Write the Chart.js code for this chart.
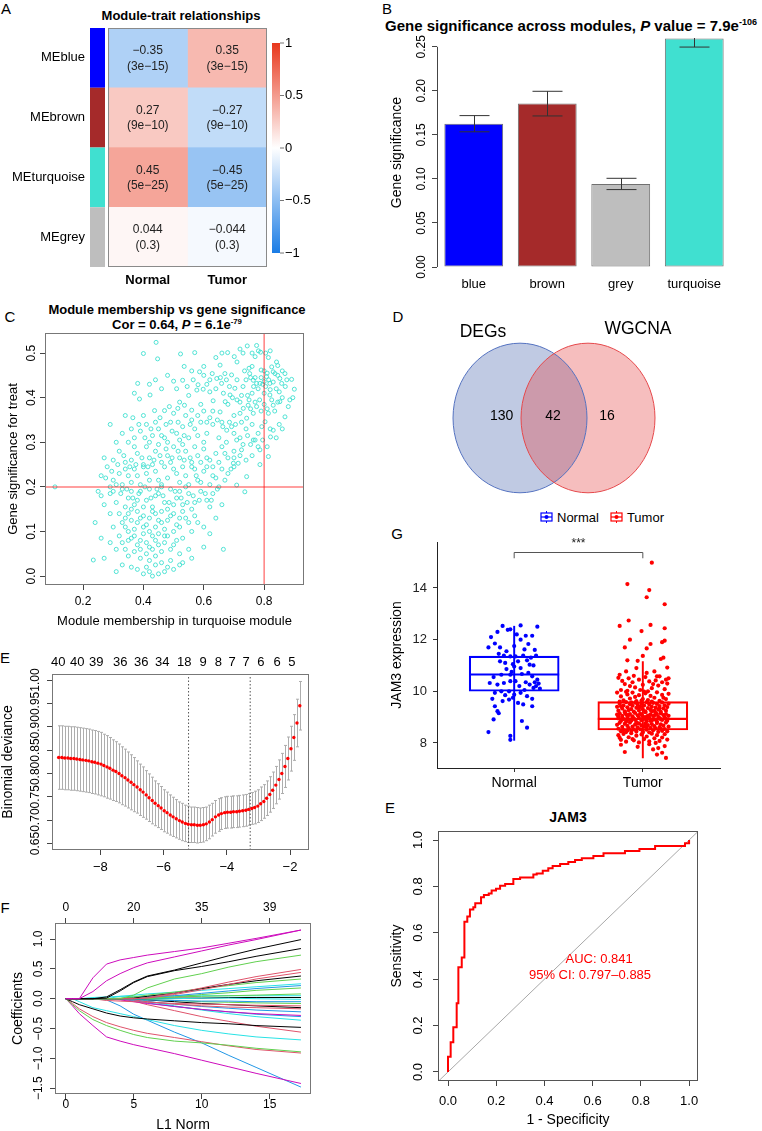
<!DOCTYPE html>
<html><head><meta charset="utf-8">
<script src="https://cdn.jsdelivr.net/npm/chart.js@4.4.1/dist/chart.umd.min.js"></script>
<style>
html,body{margin:0;padding:0;background:#fff;}
#page{position:relative;width:762px;height:1131px;overflow:hidden;background:#fff;font-family:"Liberation Sans",Arial,Helvetica,sans-serif;color:#000;}
#page canvas{position:absolute;}
.t{position:absolute;white-space:nowrap;transform:translate(-50%,-50%);line-height:1;}
.letter{font-size:15px;}
.b{font-weight:bold;}
sup{font-size:0.6em;vertical-align:0.6em;line-height:0;}
.leg{position:absolute;left:540px;top:510px;height:14px;display:flex;align-items:center;font-size:13px;white-space:nowrap;}
</style></head>
<body><div id="page">
<div class="t letter" style="left:6px;top:8px">A</div>
<div class="t b" style="left:181px;top:15px;font-size:13px">Module-trait relationships</div>
<div class="t letter" style="left:387px;top:8px">B</div>
<div class="t b" style="left:571px;top:25px;font-size:15px">Gene significance across modules, <i>P</i> value = 7.9e<sup>-106</sup></div>
<div class="t letter" style="left:10px;top:316px">C</div>
<div class="t b" style="left:177px;top:309px;font-size:13px">Module membership vs gene significance</div>
<div class="t b" style="left:177px;top:324px;font-size:13px">Cor = 0.64, <i>P</i> = 6.1e<sup>-79</sup></div>
<div class="t letter" style="left:398px;top:316px">D</div>
<div class="t letter" style="left:5px;top:657px">E</div>
<div class="t letter" style="left:5px;top:907px">F</div>
<div class="t letter" style="left:397px;top:533px">G</div>
<div class="t letter" style="left:390px;top:807px">E</div>
<div class="t b" style="left:568px;top:817px;font-size:14px">JAM3</div>
<div class="leg">
<svg width="13" height="12" viewBox="0 0 13 12"><line x1="6.5" y1="0" x2="6.5" y2="12" stroke="#0000FF" stroke-width="1"/><rect x="1" y="2" width="11" height="8" fill="#fff" stroke="#0000FF" stroke-width="1.2"/><line x1="1" y1="6" x2="12" y2="6" stroke="#0000FF" stroke-width="1.2"/><circle cx="6.5" cy="6" r="2" fill="#0000FF"/></svg>
<span style="margin-left:4px">Normal</span>
<svg style="margin-left:11px" width="13" height="12" viewBox="0 0 13 12"><line x1="6.5" y1="0" x2="6.5" y2="12" stroke="#FF0000" stroke-width="1"/><rect x="1" y="2" width="11" height="8" fill="#fff" stroke="#FF0000" stroke-width="1.2"/><line x1="1" y1="6" x2="12" y2="6" stroke="#FF0000" stroke-width="1.2"/><circle cx="6.5" cy="6" r="2" fill="#FF0000"/></svg>
<span style="margin-left:4px">Tumor</span>
</div>
</div>
<script>
// ================= DATA =================
// A: module-trait heatmap
const modules = ['MEblue','MEbrown','MEturquoise','MEgrey'];
const moduleColors = ['#0000FF','#A52A2A','#40E0D0','#BEBEBE'];
const traits = ['Normal','Tumor'];
const corNormal = [-0.35, 0.27, 0.45, 0.044];
const corTumor = [0.35, -0.27, -0.45, -0.044];
const pNormal = ['3e\u221215','9e\u221210','5e\u221225','0.3'];
const pTumor = ['3e\u221215','9e\u221210','5e\u221225','0.3'];
const colorbarTicks = [1, 0.5, 0, -0.5, -1];

// B: gene significance across modules
const gsModules = ['blue','brown','grey','turquoise'];
const gsColors = ['#0000FF','#A52A2A','#BEBEBE','#40E0D0'];
const gsMean = [0.1627, 0.1855, 0.0943, 0.2593];
const gsSE = [0.0092, 0.0140, 0.0064, 0.0096];
const gsTicks = [0, 0.05, 0.10, 0.15, 0.20, 0.25];

// C: module membership vs gene significance (turquoise)
const mmCut = 0.8, gsCut = 0.2;
const mmTicks = [0.2, 0.4, 0.6, 0.8];
const gsTicksC = [0, 0.1, 0.2, 0.3, 0.4, 0.5];
const mmGs = [
[0.442,0.524],[0.400,0.499],[0.447,0.487],[0.523,0.498],[0.570,0.501],[0.679,0.501],[0.701,0.492],[0.720,0.509],[0.744,0.516],[0.775,0.517],[0.781,0.505],[0.788,0.502],[0.770,0.492],[0.814,0.490],[0.841,0.480],[0.845,0.472],[0.825,0.469],[0.869,0.454],[0.830,0.458],[0.750,0.466],[0.752,0.454],[0.586,0.458],[0.654,0.473],[0.628,0.454],[0.670,0.454],[0.692,0.451],[0.800,0.460],[0.810,0.455],[0.790,0.462],[0.836,0.454],[0.760,0.470],[0.735,0.460],
[0.891,0.441],[0.764,0.439],[0.775,0.432],[0.786,0.432],[0.800,0.436],[0.819,0.432],[0.852,0.443],[0.858,0.432],[0.808,0.447],[0.850,0.413],[0.900,0.419],[0.819,0.406],[0.703,0.421],[0.687,0.406],[0.659,0.432],[0.643,0.443],[0.620,0.413],[0.598,0.419],[0.581,0.429],[0.577,0.417],[0.530,0.439],[0.500,0.437],[0.381,0.432],[0.422,0.406],[0.740,0.440],[0.770,0.445],[0.790,0.445],[0.780,0.420],[0.760,0.410],[0.730,0.425],[0.710,0.440],[0.840,0.420],[0.870,0.425],[0.820,0.418],[0.800,0.410],[0.665,0.410],[0.550,0.405],[0.610,0.430],
[0.387,0.397],[0.869,0.357],[0.852,0.391],[0.830,0.383],[0.814,0.365],[0.764,0.365],[0.747,0.383],[0.731,0.376],[0.720,0.365],[0.742,0.354],[0.654,0.368],[0.671,0.391],[0.631,0.393],[0.437,0.371],[0.470,0.371],[0.486,0.380],[0.514,0.376],[0.536,0.383],[0.560,0.372],[0.785,0.395],[0.800,0.385],[0.770,0.390],[0.750,0.395],[0.700,0.360],[0.680,0.385],[0.600,0.370],[0.580,0.360],[0.620,0.355],[0.540,0.360],[0.500,0.365],[0.455,0.355],[0.400,0.360],[0.365,0.355],[0.340,0.360],[0.835,0.370],[0.880,0.380],[0.590,0.385],[0.520,0.390],[0.720,0.390],
[0.803,0.346],[0.830,0.327],[0.821,0.312],[0.792,0.335],[0.764,0.305],[0.709,0.305],[0.692,0.335],[0.676,0.327],[0.663,0.335],[0.780,0.320],[0.760,0.340],[0.740,0.330],[0.720,0.310],[0.650,0.310],[0.630,0.340],[0.610,0.320],[0.590,0.345],[0.570,0.330],[0.550,0.310],[0.530,0.335],[0.510,0.320],[0.490,0.345],[0.470,0.310],[0.450,0.330],[0.430,0.315],[0.410,0.340],[0.390,0.325],[0.370,0.310],[0.560,0.350],[0.600,0.300],[0.480,0.300],[0.420,0.300],[0.350,0.300],[0.290,0.340],[0.520,0.305],[0.700,0.320],[0.675,0.300],[0.850,0.340],[0.860,0.330],[0.840,0.310],
[0.786,0.283],[0.814,0.268],[0.725,0.283],[0.714,0.253],[0.698,0.253],[0.780,0.290],[0.760,0.270],[0.740,0.260],[0.730,0.295],[0.700,0.280],[0.680,0.265],[0.660,0.290],[0.640,0.275],[0.620,0.260],[0.600,0.285],[0.580,0.270],[0.560,0.255],[0.540,0.280],[0.520,0.265],[0.500,0.290],[0.480,0.270],[0.460,0.255],[0.440,0.280],[0.420,0.265],[0.400,0.250],[0.380,0.275],[0.360,0.260],[0.340,0.255],[0.320,0.280],[0.300,0.260],[0.270,0.265],[0.450,0.295],[0.530,0.295],[0.570,0.290],[0.610,0.265],[0.490,0.255],[0.410,0.290],[0.370,0.290],[0.650,0.255],[0.670,0.275],
[0.786,0.250],[0.742,0.223],[0.709,0.204],[0.660,0.240],[0.640,0.220],[0.620,0.205],[0.600,0.235],[0.580,0.215],[0.560,0.245],[0.540,0.225],[0.520,0.210],[0.500,0.240],[0.480,0.220],[0.460,0.205],[0.440,0.235],[0.420,0.215],[0.400,0.245],[0.380,0.225],[0.360,0.210],[0.340,0.240],[0.320,0.230],[0.300,0.215],[0.280,0.245],[0.260,0.225],[0.680,0.230],[0.700,0.245],[0.550,0.205],[0.470,0.245],[0.430,0.250],[0.390,0.205],[0.330,0.205],[0.510,0.230],[0.570,0.240],[0.630,0.245],[0.450,0.215],[0.370,0.240],[0.410,0.230],[0.530,0.245],[0.590,0.210],[0.350,0.225],
[0.736,0.189],[0.107,0.200],[0.250,0.190],[0.260,0.180],[0.290,0.185],[0.310,0.165],[0.330,0.195],[0.350,0.175],[0.370,0.160],[0.390,0.190],[0.410,0.170],[0.430,0.155],[0.450,0.185],[0.470,0.165],[0.490,0.195],[0.510,0.175],[0.530,0.160],[0.550,0.185],[0.570,0.165],[0.590,0.190],[0.610,0.170],[0.630,0.185],[0.660,0.160],[0.420,0.195],[0.380,0.170],[0.340,0.155],[0.440,0.180],[0.480,0.150],[0.520,0.190],[0.400,0.155],[0.360,0.190],[0.500,0.160],[0.560,0.150],[0.460,0.200],[0.300,0.190],[0.540,0.200],[0.620,0.155],
[0.300,0.110],[0.330,0.120],[0.350,0.140],[0.370,0.105],[0.390,0.130],[0.410,0.115],[0.430,0.145],[0.450,0.125],[0.470,0.105],[0.490,0.135],[0.510,0.115],[0.530,0.145],[0.550,0.120],[0.570,0.135],[0.600,0.110],[0.640,0.130],[0.380,0.145],[0.420,0.100],[0.460,0.145],[0.340,0.110],[0.440,0.110],[0.500,0.100],[0.400,0.135],[0.360,0.125],[0.520,0.130],
[0.290,0.075],[0.320,0.090],[0.340,0.060],[0.360,0.085],[0.380,0.070],[0.400,0.095],[0.420,0.065],[0.440,0.080],[0.460,0.055],[0.480,0.090],[0.500,0.070],[0.530,0.085],[0.550,0.060],[0.600,0.065],[0.410,0.050],[0.370,0.055],[0.450,0.095],[0.390,0.080],[0.430,0.090],[0.470,0.075],[0.260,0.085],[0.350,0.100],
[0.234,0.036],[0.310,0.010],[0.330,0.025],[0.360,0.020],[0.380,0.015],[0.400,0.005],[0.420,0.010],[0.430,0.000],[0.440,0.025],[0.450,0.005],[0.460,0.030],[0.470,0.010],[0.480,0.020],[0.490,0.035],[0.500,0.015],[0.520,0.025],[0.530,0.030],[0.410,0.020],[0.390,0.040],[0.350,0.045],[0.440,0.045],[0.420,0.035],[0.270,0.040],
[0.755,0.445],[0.765,0.425],[0.795,0.430],[0.805,0.425],[0.815,0.440],[0.830,0.435],[0.845,0.450],[0.860,0.460],[0.875,0.440],[0.885,0.395],[0.895,0.400],[0.860,0.400],[0.845,0.390],[0.825,0.395],[0.810,0.375],[0.790,0.370],[0.775,0.380],[0.755,0.375],[0.745,0.405],[0.725,0.405],[0.710,0.395],[0.695,0.400],[0.685,0.425],[0.675,0.440],[0.655,0.445],[0.640,0.420],[0.620,0.440],[0.600,0.450],[0.565,0.440],[0.545,0.425],
[0.630,0.370],[0.645,0.350],[0.660,0.345],[0.685,0.345],[0.705,0.340],[0.725,0.345],[0.745,0.315],[0.755,0.295],[0.770,0.305],[0.795,0.305],[0.810,0.290],[0.820,0.330],[0.610,0.345],[0.580,0.315],[0.555,0.340],[0.535,0.315],[0.515,0.345],[0.495,0.325],[0.475,0.340],[0.460,0.315],[0.440,0.345],[0.425,0.330],[0.405,0.310],[0.385,0.340],[0.360,0.330],[0.330,0.320],[0.310,0.300],
[0.700,0.265],[0.720,0.270],[0.690,0.240],[0.670,0.215],[0.650,0.200],[0.630,0.225],[0.610,0.245],[0.590,0.255],[0.575,0.225],[0.555,0.265],[0.535,0.260],[0.515,0.280],[0.495,0.265],[0.475,0.285],[0.455,0.270],[0.435,0.260],[0.415,0.245],[0.395,0.265],[0.375,0.250],[0.355,0.245],[0.335,0.270],[0.315,0.250],[0.295,0.235],[0.275,0.220],[0.290,0.200],[0.310,0.205],[0.325,0.185],[0.345,0.195],[0.365,0.175],[0.385,0.185],[0.405,0.200],[0.425,0.175],[0.445,0.195],[0.465,0.180],[0.485,0.165],[0.505,0.190],[0.525,0.175],[0.545,0.165],[0.565,0.180],[0.585,0.170],[0.605,0.185],[0.625,0.170],[0.645,0.195],
[0.320,0.140],[0.340,0.130],[0.360,0.150],[0.380,0.120],[0.400,0.110],[0.420,0.130],[0.440,0.140],[0.460,0.120],[0.480,0.125],[0.500,0.140],[0.520,0.110],[0.540,0.130],[0.560,0.100],[0.580,0.120],[0.620,0.095],[0.665,0.060],[0.310,0.060],[0.330,0.075],[0.350,0.080],[0.370,0.090],[0.390,0.060],[0.410,0.075],[0.430,0.060],[0.450,0.070],[0.470,0.090],[0.490,0.060],[0.510,0.080],[0.520,0.050],[0.560,0.040],[0.290,0.140],[0.270,0.160],[0.240,0.120],
[0.440,0.440],[0.420,0.430],[0.370,0.410],[0.460,0.420],[0.480,0.450],[0.510,0.420],[0.535,0.470],[0.560,0.460],[0.600,0.470],[0.640,0.490],[0.660,0.500],[0.710,0.480],[0.730,0.500],[0.760,0.500],[0.805,0.500],[0.820,0.505]
];

// D: Venn
const vennNames = ['DEGs','WGCNA'];
const vennCounts = [130, 42, 16];   // DEGs only, both, WGCNA only

// E (left): LASSO cross-validation
const cvLogLambda = [-9.32,-9.22,-9.13,-9.03,-8.94,-8.84,-8.75,-8.65,-8.56,-8.46,-8.37,-8.27,-8.18,-8.08,-7.98,-7.89,-7.79,-7.70,-7.60,-7.51,-7.41,-7.32,-7.22,-7.13,-7.03,-6.94,-6.84,-6.74,-6.65,-6.55,-6.46,-6.36,-6.27,-6.17,-6.08,-5.98,-5.89,-5.79,-5.70,-5.60,-5.50,-5.41,-5.31,-5.22,-5.12,-5.03,-4.93,-4.84,-4.74,-4.65,-4.55,-4.46,-4.36,-4.26,-4.17,-4.07,-3.98,-3.88,-3.79,-3.69,-3.60,-3.50,-3.40,-3.31,-3.21,-3.12,-3.02,-2.93,-2.83,-2.74,-2.64,-2.55,-2.45,-2.35,-2.26,-2.16,-2.07,-1.97,-1.88,-1.78,-1.69];
const cvMean = [0.834,0.834,0.833,0.833,0.832,0.832,0.831,0.830,0.829,0.828,0.827,0.825,0.824,0.822,0.820,0.817,0.814,0.811,0.807,0.804,0.800,0.795,0.791,0.786,0.781,0.776,0.771,0.765,0.760,0.754,0.748,0.742,0.736,0.731,0.726,0.720,0.716,0.711,0.707,0.703,0.699,0.696,0.693,0.691,0.690,0.690,0.689,0.689,0.690,0.692,0.696,0.701,0.707,0.711,0.714,0.716,0.717,0.717,0.718,0.718,0.719,0.720,0.721,0.723,0.725,0.727,0.730,0.735,0.740,0.747,0.755,0.764,0.775,0.787,0.800,0.815,0.832,0.853,0.877,0.908,0.945];
const cvSE = [0.068,0.068,0.068,0.068,0.068,0.068,0.068,0.068,0.068,0.068,0.068,0.068,0.068,0.068,0.068,0.067,0.067,0.066,0.065,0.064,0.063,0.062,0.061,0.060,0.059,0.058,0.056,0.055,0.054,0.052,0.051,0.050,0.048,0.047,0.046,0.045,0.044,0.043,0.042,0.041,0.040,0.040,0.039,0.039,0.038,0.038,0.038,0.037,0.037,0.036,0.036,0.035,0.035,0.035,0.034,0.034,0.034,0.034,0.034,0.034,0.034,0.034,0.034,0.034,0.034,0.035,0.035,0.036,0.036,0.037,0.038,0.039,0.040,0.042,0.043,0.045,0.046,0.048,0.049,0.051,0.052];
const cvDfPos = [-9.33,-8.73,-8.13,-7.37,-6.71,-6.04,-5.35,-4.75,-4.27,-3.83,-3.39,-2.92,-2.41,-1.94];
const cvDf = [40,40,39,36,36,34,18,9,8,7,7,6,6,5];
const lambdaMin = -5.21, lambda1se = -3.26;
const cvXTicks = [-8,-6,-4,-2];
const cvYTicks = [0.65,0.70,0.75,0.80,0.85,0.90,0.95,1.00];

// F: coefficient paths
const pathL1 = [0,0.5,1,2,3,4,5,6,8,10,12,14,17.3];
const pathTicks = [0,5,10,15];
const pathDf = [0,20,35,39];
const coefTicks = [-1.5,-1,-0.5,0,0.5,1];
const coefPaths = [
[0,0,0,0.35,0.58,0.65,0.69,0.73,0.79,0.85,0.93,1.01,1.15],
[0,0,0,0.12,0.30,0.42,0.52,0.60,0.70,0.80,0.90,0.99,1.15],
[0,0,0,0,0.03,0.15,0.28,0.38,0.48,0.60,0.72,0.83,0.99],
[0,0,0,0,0.01,0.13,0.27,0.37,0.47,0.54,0.62,0.71,0.84],
[0,0,0,0,0,0,0.06,0.18,0.33,0.42,0.53,0.62,0.73],
[0,0,0,0,0,0,0,0.02,0.09,0.18,0.28,0.37,0.49],
[0,0,0,0,0,0,0,0.01,0.07,0.15,0.24,0.33,0.44],
[0,0,0,0,0,0,0.01,0.04,0.09,0.17,0.24,0.30,0.38],
[0,0,0,0,0,0.01,0.03,0.06,0.11,0.17,0.22,0.27,0.33],
[0,0,0,0,0,0.04,0.06,0.08,0.11,0.14,0.17,0.20,0.25],
[0,0,0,0,0,0,0,0.02,0.05,0.09,0.13,0.17,0.22],
[0,0,0,0,0,0,0,0,0.03,0.07,0.10,0.14,0.18],
[0,0,0,0,0,0,0.01,0.02,0.03,0.04,0.05,0.06,0.08],
[0,0,0,0.02,0.03,0.04,0.04,0.04,0.05,0.05,0.05,0.05,0.05],
[0,0,0,0,0,0,0,0,0,0.01,0.01,0,-0.01],
[0,0,0,0,0,0,0,0,0.01,0.01,0.02,0.02,0.02],
[0,0,0,0,0,0,-0.01,-0.02,-0.03,-0.04,-0.04,-0.05,-0.05],
[0,0,0,0,0,0,0,-0.01,-0.03,-0.05,-0.06,-0.07,-0.08],
[0,0,0,0,-0.03,-0.04,-0.05,-0.06,-0.08,-0.09,-0.10,-0.11,-0.12],
[0,0,0,0,0,0,0,-0.02,-0.05,-0.08,-0.10,-0.12,-0.15],
[0,0,0,0,0,0,-0.02,-0.05,-0.09,-0.12,-0.14,-0.15,-0.17],
[0,0,0,0,0,0,-0.02,-0.05,-0.09,-0.13,-0.16,-0.19,-0.22],
[0,0,0,0,0,-0.02,-0.05,-0.08,-0.13,-0.18,-0.22,-0.25,-0.28],
[0,0,0,0,0,0,-0.03,-0.07,-0.13,-0.18,-0.22,-0.26,-0.30],
[0,0,0,0,0,0,0,-0.04,-0.12,-0.19,-0.25,-0.30,-0.36],
[0,-0.05,-0.10,-0.17,-0.24,-0.29,-0.32,-0.34,-0.37,-0.40,-0.42,-0.45,-0.48],
[0,0,0,0,0,0,-0.04,-0.10,-0.20,-0.30,-0.38,-0.46,-0.56],
[0,0,-0.05,-0.15,-0.20,-0.25,-0.30,-0.35,-0.45,-0.53,-0.59,-0.64,-0.69],
[0,-0.10,-0.20,-0.35,-0.45,-0.53,-0.60,-0.65,-0.71,-0.74,-0.78,-0.83,-0.89],
[0,-0.08,-0.17,-0.30,-0.40,-0.47,-0.53,-0.58,-0.65,-0.72,-0.79,-0.85,-0.91],
[0,-0.12,-0.25,-0.45,-0.64,-0.71,-0.77,-0.82,-0.92,-1.03,-1.14,-1.25,-1.42],
[0,0,0,0,-0.02,-0.12,-0.26,-0.36,-0.56,-0.74,-0.95,-1.15,-1.48]
];

// G: JAM3 expression
const groups = ['Normal','Tumor'];
const normalBox = [8.10, 10.00, 10.65, 11.36, 12.52];   // min, q1, median, q3, max
const tumorBox  = [7.42, 8.50, 8.93, 9.60, 11.15];
const sigY = 15.38, sigLabel = '***';
const jamTicks = [8,10,12,14];
const normalPts = [[-0.09,12.53],[0.05,12.55],[0.18,12.50],[-0.03,12.40],[-0.05,12.38],[-0.18,12.10],[-0.13,12.30],[0.09,12.15],[0.14,12.15],[0.05,12.00],[-0.20,11.70],[-0.11,11.70],[-0.15,11.85],[0.00,11.75],[0.11,11.83],[0.16,11.60],[-0.08,11.38],[-0.03,11.35],[0.01,11.35],[0.07,11.38],[0.17,11.38],[-0.11,11.16],[-0.07,11.10],[0.03,11.16],[0.10,11.20],[0.12,11.03],[-0.06,10.86],[0.00,10.96],[0.05,10.90],[-0.10,10.64],[-0.03,10.64],[0.06,10.67],[0.11,10.71],[0.14,10.58],[-0.19,10.32],[-0.13,10.26],[-0.08,10.32],[-0.03,10.39],[0.01,10.39],[0.04,10.20],[0.09,10.35],[0.12,10.26],[0.16,10.35],[0.17,10.20],[0.15,10.13],[-0.15,9.94],[-0.10,10.00],[-0.04,10.00],[0.00,9.87],[0.05,9.94],[0.10,9.81],[-0.17,9.71],[-0.09,9.62],[-0.04,9.68],[-0.01,9.75],[0.14,9.71],[-0.15,9.42],[-0.13,9.23],[0.07,9.49],[0.14,9.42],[-0.16,8.91],[-0.20,8.42],[0.06,8.85],[0.10,8.59],[-0.03,8.27],[-0.03,8.12],[-0.06,11.55],[0.08,11.62],[-0.12,11.45],[0.13,11.30],[0.02,12.20],[-0.01,11.05],[0.18,10.45],[-0.16,10.55],[0.08,10.05],[-0.07,9.85],[0.03,9.55],[-0.12,9.15],[0.19,10.30],[0.20,10.10],[-0.02,10.75],[0.15,11.00]];
const tumorPts = [[0.07,14.98],[-0.12,14.15],[0.05,13.92],[0.03,13.64],[0.17,13.37],[-0.11,12.74],[-0.18,12.53],[0.06,12.57],[0.17,12.44],[-0.01,12.33],[-0.10,12.00],[-0.14,11.70],[0.03,11.66],[0.15,11.90],[0.17,11.96],[0.06,11.83],[-0.12,11.20],[-0.04,11.18],[0.00,11.37],[0.14,11.25],[0.16,11.30],[0.19,10.92],[-0.18,10.64],[-0.13,10.77],[-0.05,10.90],[0.03,10.71],[0.09,10.77],[0.13,10.58],[0.18,10.45],
[-0.19,10.52],[-0.16,10.40],[-0.14,10.28],[-0.11,10.50],[-0.08,10.35],[-0.06,10.15],[-0.03,10.45],[0.00,10.25],[0.02,10.55],[0.05,10.38],[0.07,10.12],[0.10,10.42],[0.12,10.22],[0.15,10.35],[0.17,10.08],[0.19,10.30],[-0.17,10.05],[-0.12,10.02],[-0.02,10.05],[0.04,10.00],[0.11,10.58],[-0.07,10.60],[0.20,10.50],[-0.10,10.20],[0.08,10.28],
[-0.20,9.95],[-0.17,9.80],[-0.15,9.65],[-0.12,9.88],[-0.10,9.72],[-0.08,9.95],[-0.05,9.62],[-0.03,9.85],[0.00,9.70],[0.02,9.92],[0.04,9.66],[0.06,9.82],[0.09,9.75],[0.11,9.96],[0.13,9.63],[0.15,9.86],[0.18,9.70],[0.20,9.90],[-0.18,9.60],[-0.06,9.78],[0.07,9.60],[0.16,9.75],[-0.13,9.98],[0.01,9.99],[-0.01,9.64],
[-0.20,9.40],[-0.19,9.25],[-0.18,9.52],[-0.16,9.33],[-0.15,9.45],[-0.14,9.22],[-0.13,9.58],[-0.12,9.38],[-0.11,9.27],[-0.10,9.50],[-0.09,9.31],[-0.08,9.44],[-0.07,9.21],[-0.06,9.56],[-0.05,9.36],[-0.04,9.48],[-0.03,9.26],[-0.02,9.41],[-0.01,9.53],[0.00,9.30],[0.01,9.45],[0.02,9.22],[0.03,9.58],[0.04,9.35],[0.05,9.49],[0.06,9.28],[0.07,9.40],[0.08,9.55],[0.09,9.24],[0.10,9.37],[0.11,9.51],[0.12,9.29],[0.13,9.43],[0.14,9.20],[0.15,9.57],[0.16,9.34],[0.17,9.46],[0.18,9.25],[0.19,9.39],[0.20,9.52],[-0.17,9.42],[-0.03,9.35],[0.07,9.23],[0.13,9.33],[-0.09,9.57],
[-0.20,9.10],[-0.19,8.95],[-0.18,9.15],[-0.17,8.85],[-0.16,9.05],[-0.15,8.92],[-0.14,9.18],[-0.13,8.82],[-0.12,9.00],[-0.11,8.90],[-0.10,9.12],[-0.09,8.86],[-0.08,9.03],[-0.07,8.94],[-0.06,9.16],[-0.05,8.81],[-0.04,9.07],[-0.03,8.97],[-0.02,9.13],[-0.01,8.88],[0.00,9.02],[0.01,8.93],[0.02,9.19],[0.03,8.84],[0.04,9.06],[0.05,8.98],[0.06,9.11],[0.07,8.87],[0.08,9.04],[0.09,8.91],[0.10,9.17],[0.11,8.83],[0.12,9.01],[0.13,8.96],[0.14,9.14],[0.15,8.89],[0.16,9.08],[0.17,8.99],[0.18,9.12],[0.19,8.86],[0.20,9.05],[-0.16,8.98],[-0.11,9.08],[-0.06,8.90],[-0.01,9.10],[0.04,8.95],[0.09,9.07],[0.14,8.92],[-0.13,9.11],[0.02,9.00],[0.11,9.12],[-0.08,8.97],[0.18,8.93],[-0.19,9.02],[0.06,8.85],
[-0.20,8.70],[-0.19,8.55],[-0.18,8.78],[-0.17,8.45],[-0.16,8.62],[-0.15,8.50],[-0.14,8.74],[-0.13,8.42],[-0.12,8.66],[-0.11,8.57],[-0.10,8.79],[-0.09,8.48],[-0.08,8.63],[-0.07,8.52],[-0.06,8.71],[-0.05,8.44],[-0.04,8.60],[-0.03,8.76],[-0.02,8.53],[-0.01,8.68],[0.00,8.46],[0.01,8.64],[0.02,8.75],[0.03,8.51],[0.04,8.69],[0.05,8.41],[0.06,8.58],[0.07,8.73],[0.08,8.49],[0.09,8.65],[0.10,8.56],[0.11,8.77],[0.12,8.43],[0.13,8.61],[0.14,8.72],[0.15,8.47],[0.16,8.67],[0.17,8.54],[0.18,8.79],[0.19,8.45],[0.20,8.63],[-0.12,8.48],[0.03,8.62],[0.14,8.55],[-0.05,8.75],
[-0.19,8.30],[-0.17,8.12],[-0.15,8.35],[-0.13,8.05],[-0.11,8.22],[-0.09,8.38],[-0.07,8.10],[-0.05,8.28],[-0.03,8.02],[-0.01,8.33],[0.01,8.15],[0.03,8.25],[0.05,8.06],[0.07,8.36],[0.09,8.18],[0.11,8.30],[0.13,8.08],[0.15,8.21],[0.17,8.34],[0.19,8.13],[-0.18,8.20],[0.00,8.40],[0.10,8.00],[-0.08,8.15],
[-0.14,7.65],[0.11,7.55],[0.15,7.62],[0.18,7.42],[0.05,7.95],[-0.04,7.85],[0.12,7.80],[-0.17,7.93],[0.08,7.75],[0.17,7.88]];

// E (right): ROC of JAM3
const rocFPR = [0,0,0.011,0.011,0.022,0.022,0.036,0.036,0.043,0.043,0.057,0.057,0.068,0.068,0.080,0.080,0.091,0.091,0.105,0.105,0.113,0.113,0.137,0.137,0.149,0.149,0.169,0.169,0.181,0.181,0.199,0.199,0.216,0.216,0.237,0.237,0.271,0.271,0.299,0.299,0.354,0.354,0.368,0.368,0.393,0.393,0.416,0.416,0.434,0.434,0.465,0.465,0.499,0.499,0.527,0.527,0.555,0.555,0.603,0.603,0.645,0.645,0.734,0.734,0.794,0.794,0.859,0.859,0.983,0.983,1.0,1.0];
const rocTPR = [0,0.066,0.066,0.128,0.128,0.193,0.193,0.296,0.296,0.451,0.451,0.493,0.493,0.648,0.648,0.670,0.670,0.701,0.701,0.710,0.710,0.727,0.727,0.753,0.753,0.763,0.763,0.770,0.770,0.782,0.782,0.790,0.790,0.803,0.803,0.810,0.810,0.832,0.832,0.839,0.839,0.851,0.851,0.856,0.856,0.868,0.868,0.878,0.878,0.888,0.888,0.897,0.897,0.905,0.905,0.914,0.914,0.922,0.922,0.931,0.931,0.943,0.943,0.953,0.953,0.961,0.961,0.974,0.974,0.986,0.986,1.0];
const rocTicks = [0,0.2,0.4,0.6,0.8,1.0];
const aucText = ['AUC: 0.841', '95% CI: 0.797\u20130.885'];

// ================= HELPERS =================
Chart.defaults.font.family = '"Liberation Sans", Arial, Helvetica, sans-serif';
Chart.defaults.color = '#000';
const FAM = Chart.defaults.font.family;
const page = document.getElementById('page');
const mctx = document.createElement('canvas').getContext('2d');
function tw(s, size, w){ mctx.font = (w||'normal')+' '+size+'px '+FAM; return mctx.measureText(s).width; }
function F(size, weight){ return {family:FAM, size:size, weight:weight||'normal', lineHeight:1.2}; }
const minus = s => String(s).replace('-', '\u2212');
function canvasAt(cv){ const c=document.createElement('canvas'); c.width=cv.w; c.height=cv.h; c.style.left=cv.l+'px'; c.style.top=cv.t+'px'; c.style.width=cv.w+'px'; c.style.height=cv.h+'px'; page.appendChild(c); return c; }
function noPad(s){ s.paddingTop=0; s.paddingBottom=0; s.paddingLeft=0; s.paddingRight=0; }
function layoutPad(cv, area, hasTop, hasBottom, hasLeft){
  return {autoPadding:false, padding:{left: hasLeft?0:area.l-cv.l, top: hasTop?0:area.t-cv.t, right:(cv.l+cv.w)-area.r, bottom: hasBottom?0:(cv.t+cv.h)-area.b}};
}
const baseOpts = {responsive:false, animation:false, events:[]};
const noPlug = {legend:{display:false}, tooltip:{enabled:false}};

function yAxisRot(cv, area, o){
  const W = area.l - cv.l;
  const tl = (o.tl===undefined) ? 5 : o.tl;
  const widest = Math.max.apply(null, o.ticks.map(v=>tw(o.fmt(v), o.size)));
  const pad = W - tl - (o.labelX - cv.l) - widest/2;
  return {
    type:'linear', position:'left', min:o.min, max:o.max, offset:false,
    afterBuildTicks: s=>{ s.ticks = o.ticks.map(v=>({value:v})); },
    ticks:{autoSkip:false, minRotation:90, maxRotation:90, crossAlign:'center', padding:pad, font:F(o.size), color:'#000', callback:v=>o.fmt(v)},
    grid:{display:true, drawOnChartArea:false, drawTicks:true, tickLength:tl, tickColor:'#444', tickWidth:1, offset:false},
    border:{display:false},
    title: o.title ? {display:true, text:o.title, color:'#000', font:F(o.titleSize), padding:{top:(o.titleX-cv.l)-o.titleSize*0.6, bottom:0}} : {display:false},
    afterFit: s=>{ s.width = W; noPad(s); }
  };
}
function xAxisR(cv, area, o){
  const top = o.position==='top';
  const H = top ? area.t - cv.t : (cv.t+cv.h) - area.b;
  const tl = (o.tl===undefined) ? 5 : o.tl;
  const dist = top ? area.t - o.labelY : o.labelY - area.b;
  const pad = dist - tl - o.size*0.6;
  return {
    type:'linear', position: top?'top':'bottom', min:o.min, max:o.max, offset:false,
    afterBuildTicks: s=>{ s.ticks = o.ticks.map(v=>({value:v})); },
    ticks:{autoSkip:false, maxRotation:0, minRotation:0, padding:pad, font:F(o.size, o.weight), color:o.color||'#000', callback:(v,i)=>o.fmt(v,i)},
    grid:{display: tl>0, drawOnChartArea:false, drawTicks: tl>0, tickLength:tl, tickColor:o.tickColor||'#444', tickWidth:1, offset:false},
    border:{display: !!o.border, color:'#222', width:1},
    title: o.title ? {display:true, text:o.title, color:'#000', font:F(o.titleSize), padding:{top:0, bottom:((cv.t+cv.h)-o.titleY)-o.titleSize*0.6}} : {display:false},
    afterFit: s=>{ s.height = H; noPad(s); }
  };
}
const boxPlugin = (color) => ({ id:'rbox', afterDraw(ch){ const a=ch.chartArea, c=ch.ctx; c.save(); c.strokeStyle=color; c.lineWidth=1; c.strokeRect(Math.round(a.left)+0.5, Math.round(a.top)+0.5, Math.round(a.right-a.left)-1, Math.round(a.bottom-a.top)-1); c.restore(); }});

function heatColor(v){
  const t = Math.min(1, Math.abs(v));
  const end = v>=0 ? [232,55,28] : [26,124,229];
  const ch = k => Math.round(255 + (end[k]-255)*t);
  return 'rgb('+ch(0)+','+ch(1)+','+ch(2)+')';
}
const fmtCor = v => (v<0?'\u2212':'') + String(Math.abs(v));

// ================= A: heatmap =================
(function(){
  const cv={l:0,t:22,w:330,h:278}, area={l:108,t:28,r:267,b:267};
  const cors=[corNormal, corTumor], ps=[pNormal, pTumor];
  const heatPlugin = { id:'heat', afterDraw(ch){
    const c=ch.ctx, a=ch.chartArea, xs=ch.scales.x, ys=ch.scales.y;
    const rowH=(a.bottom-a.top)/modules.length;
    c.save();
    modules.forEach((m,i)=>{ const yc=ys.getPixelForValue(i); c.fillStyle=moduleColors[i]; c.fillRect(a.left-18, yc-rowH/2, 15, rowH); });
    c.strokeStyle='#8a8a8a'; c.lineWidth=1; c.strokeRect(a.left+0.5, a.top+0.5, a.right-a.left-1, a.bottom-a.top-1);
    c.font='12px '+FAM; c.fillStyle='#222'; c.textAlign='center'; c.textBaseline='middle';
    cors.forEach((arr,j)=>{ const xc=xs.getPixelForValue(j+0.5); arr.forEach((v,i)=>{ const yc=ys.getPixelForValue(i); c.fillText(fmtCor(v), xc, yc-7); c.fillText('('+ps[j][i]+')', xc, yc+8.5); }); });
    const x0=a.right+5, w=8, y0=a.top+15, y1=a.bottom-14;
    const g=c.createLinearGradient(0,y0,0,y1);
    g.addColorStop(0, heatColor(1)); g.addColorStop(0.5, heatColor(0)); g.addColorStop(1, heatColor(-1));
    c.fillStyle=g; c.fillRect(x0,y0,w,y1-y0);
    c.strokeStyle='#777'; c.lineWidth=1; c.font='13px '+FAM; c.textAlign='left'; c.fillStyle='#000';
    colorbarTicks.forEach(v=>{ const y=y0+(1-v)/2*(y1-y0); c.beginPath(); c.moveTo(x0+w,y); c.lineTo(x0+w+4,y); c.stroke(); c.fillText(minus(v), x0+w+5, y); });
    c.restore();
  }};
  new Chart(canvasAt(cv), {
    type:'bar',
    data:{labels:modules, datasets: traits.map((t,j)=>({label:t, data: modules.map(()=>[j,j+1]), backgroundColor: cors[j].map(heatColor), borderWidth:0, barPercentage:1, categoryPercentage:1, grouped:false}))},
    options:Object.assign({}, baseOpts, {indexAxis:'y', layout:layoutPad(cv,area,false,true,true), plugins:noPlug,
      scales:{
        x: xAxisR(cv, area, {min:0, max:2, ticks:[0.5,1.5], fmt:(v,i)=>traits[i], size:13, weight:'bold', labelY:280, tl:0}),
        y: {type:'category', position:'left', ticks:{font:F(13), color:'#000', padding:(area.l-cv.l)-85}, grid:{display:false, drawTicks:false}, border:{display:false}, afterFit:s=>{ s.width=area.l-cv.l; noPad(s); }}
      }}),
    plugins:[heatPlugin]
  });
})();

// ================= B: bar chart =================
(function(){
  const cv={l:370,t:32,w:392,h:273}, area={l:437,t:38,r:731,b:267};
  const errPlugin = { id:'err', afterDatasetsDraw(ch){
    const meta=ch.getDatasetMeta(0), ys=ch.scales.y, c=ch.ctx, a=ch.chartArea;
    c.save(); c.beginPath(); c.rect(a.left, a.top, a.right-a.left, a.bottom-a.top); c.clip();
    c.strokeStyle='#333'; c.lineWidth=1;
    meta.data.forEach((bar,i)=>{ const x=Math.round(bar.x)+0.5; const yh=ys.getPixelForValue(gsMean[i]+gsSE[i]), yl=ys.getPixelForValue(gsMean[i]-gsSE[i]);
      c.beginPath(); c.moveTo(x,yh); c.lineTo(x,yl); c.moveTo(x-15,yh); c.lineTo(x+15,yh); c.moveTo(x-15,yl); c.lineTo(x+15,yl); c.stroke(); });
    c.restore();
    const ax=Math.round(a.left)+0.5; c.save(); c.strokeStyle='#444'; c.lineWidth=1; c.beginPath(); c.moveTo(ax, ys.getPixelForValue(gsTicks[0])); c.lineTo(ax, ys.getPixelForValue(gsTicks[gsTicks.length-1])); c.stroke(); c.restore();
  }};
  new Chart(canvasAt(cv), {
    type:'bar',
    data:{labels:gsModules, datasets:[{data:gsMean, backgroundColor:gsColors, borderColor:'#707070', borderWidth:1, borderSkipped:false, barPercentage:0.8, categoryPercentage:1}]},
    options:Object.assign({}, baseOpts, {layout:layoutPad(cv,area,false,true,true), plugins:noPlug,
      scales:{
        x:{type:'category', position:'bottom', offset:true, ticks:{font:F(13), color:'#000', padding:(284-area.b)-13*0.6, maxRotation:0, autoSkip:false}, grid:{display:false, drawTicks:false}, border:{display:false}, afterFit:s=>{ s.height=(cv.t+cv.h)-area.b; noPad(s); }},
        y: yAxisRot(cv, area, {min:0, max:0.26, ticks:gsTicks, fmt:v=>v.toFixed(2), size:12, labelX:422, title:'Gene significance', titleSize:14, titleX:397})
      }}),
    plugins:[errPlugin]
  });
})();

// ================= C: scatter =================
(function(){
  const cv={l:0,t:330,w:330,h:302}, area={l:45,t:333,r:304,b:585};
  const xmin=0.074, xmax=0.932, ymin=-0.020, ymax=0.545;
  new Chart(canvasAt(cv), {
    type:'scatter',
    data:{datasets:[
      {type:'line', data:[{x:xmin,y:gsCut},{x:xmax,y:gsCut}], borderColor:'rgba(255,0,0,0.5)', borderWidth:1.5, pointRadius:0},
      {type:'line', data:[{x:mmCut,y:ymin},{x:mmCut,y:ymax}], borderColor:'rgba(255,0,0,0.5)', borderWidth:1.5, pointRadius:0},
      {data: mmGs.map(p=>({x:p[0], y:p[1]})), pointRadius:2, pointStyle:'circle', backgroundColor:'rgba(0,0,0,0)', borderColor:'#40E0D0', borderWidth:0.9}
    ]},
    options:Object.assign({}, baseOpts, {layout:layoutPad(cv,area,false,true,true), plugins:noPlug,
      scales:{
        x: xAxisR(cv, area, {min:xmin, max:xmax, ticks:mmTicks, fmt:v=>v.toFixed(1), size:12, labelY:602, title:'Module membership in turquoise module', titleSize:13, titleY:621}),
        y: yAxisRot(cv, area, {min:ymin, max:ymax, ticks:gsTicksC, fmt:v=>v.toFixed(1), size:12, labelX:31.5, title:'Gene significance for treat', titleSize:13, titleX:13})
      }}),
    plugins:[boxPlugin('#777')]
  });
})();

// ================= D: Venn =================
(function(){
  const cv={l:420,t:300,w:300,h:210};
  const vennX=[-0.5,0.5], vennRX=0.985, vennRY=1.10;
  const fills=['rgba(64,94,170,0.33)','rgba(228,58,58,0.33)'];
  const strokes=['#5472C0','#E5484B'];
  const labelPos=[[-1.044,1.265],[1.235,1.309]];
  const countX=[-0.77,-0.015,0.78];
  const vennPlugin = { id:'venn', afterDatasetsDraw(ch){
    const xs=ch.scales.x, ys=ch.scales.y, c=ch.ctx, pts=ch.getDatasetMeta(0).data;
    c.save();
    const ry=Math.abs(ys.getPixelForValue(vennRY)-ys.getPixelForValue(0));
    pts.forEach((p,i)=>{ const rx=Math.abs(xs.getPixelForValue(vennX[i]+vennRX)-p.x); c.beginPath(); c.ellipse(p.x,p.y,rx,ry,0,0,Math.PI*2); c.fillStyle=fills[i]; c.fill(); });
    pts.forEach((p,i)=>{ const rx=Math.abs(xs.getPixelForValue(vennX[i]+vennRX)-p.x); c.beginPath(); c.ellipse(p.x,p.y,rx,ry,0,0,Math.PI*2); c.strokeStyle=strokes[i]; c.lineWidth=1; c.stroke(); });
    c.fillStyle='#000'; c.textAlign='center'; c.textBaseline='middle';
    c.font='17.5px '+FAM;
    vennNames.forEach((n,i)=>c.fillText(n, xs.getPixelForValue(labelPos[i][0]), ys.getPixelForValue(labelPos[i][1])));
    c.font='14px '+FAM;
    vennCounts.forEach((n,i)=>c.fillText(String(n), xs.getPixelForValue(countX[i]), ys.getPixelForValue(0.03)));
    c.restore();
  }};
  new Chart(canvasAt(cv), {
    type:'scatter',
    data:{datasets:[{data: vennX.map(x=>({x:x, y:0})), pointRadius:0}]},
    options:Object.assign({}, baseOpts, {layout:{autoPadding:false, padding:0}, plugins:noPlug,
      scales:{x:{type:'linear', display:false, min:-1.9706, max:2.441}, y:{type:'linear', display:false, min:-1.353, max:1.735}}}),
    plugins:[vennPlugin]
  });
})();

// ================= E: LASSO CV =================
(function(){
  const cv={l:0,t:645,w:330,h:235}, area={l:52,t:674,r:309,b:850};
  const xmin=-9.53, xmax=-1.40, ymin=0.636, ymax=1.013;
  const cvErr = { id:'cverr', beforeDatasetsDraw(ch){
    const xs=ch.scales.x, ys=ch.scales.y, c=ch.ctx;
    c.save(); c.strokeStyle='#ADADAD'; c.lineWidth=1;
    cvLogLambda.forEach((lx,i)=>{ const x=Math.round(xs.getPixelForValue(lx))+0.5; const yh=ys.getPixelForValue(cvMean[i]+cvSE[i]), yl=ys.getPixelForValue(cvMean[i]-cvSE[i]);
      c.beginPath(); c.moveTo(x,yh); c.lineTo(x,yl); c.moveTo(x-1.5,yh); c.lineTo(x+1.5,yh); c.moveTo(x-1.5,yl); c.lineTo(x+1.5,yl); c.stroke(); });
    c.restore();
  }};
  new Chart(canvasAt(cv), {
    type:'scatter',
    data:{datasets:[
      {data: cvLogLambda.map((x,i)=>({x:x, y:cvMean[i]})), pointRadius:1.7, backgroundColor:'#FF0000', borderWidth:0},
      {type:'line', data:[{x:lambdaMin,y:ymin},{x:lambdaMin,y:ymax}], borderColor:'#555', borderWidth:1, borderDash:[1.5,2], pointRadius:0},
      {type:'line', data:[{x:lambda1se,y:ymin},{x:lambda1se,y:ymax}], borderColor:'#555', borderWidth:1, borderDash:[1.5,2], pointRadius:0}
    ]},
    options:Object.assign({}, baseOpts, {layout:layoutPad(cv,area,true,true,true), plugins:noPlug,
      scales:{
        x: xAxisR(cv, area, {min:xmin, max:xmax, ticks:cvXTicks, fmt:v=>minus(v), size:13, labelY:867}),
        x2: xAxisR(cv, area, {position:'top', min:xmin, max:xmax, ticks:cvDfPos, fmt:(v,i)=>String(cvDf[i]), size:13, labelY:662, tl:0}),
        y: yAxisRot(cv, area, {min:ymin, max:ymax, ticks:cvYTicks, fmt:v=>v.toFixed(2), size:12, labelX:36, title:'Binomial deviance', titleSize:14, titleX:8})
      }}),
    plugins:[cvErr, boxPlugin('#777')]
  });
})();

// ================= F: coefficient paths =================
(function(){
  const cv={l:0,t:890,w:330,h:241}, area={l:55,t:923,r:311,b:1094};
  const xmin=-0.79, xmax=18.04, ymin=-1.596, ymax=1.268;
  const PAL={k:'#000000', r:'#DF536B', g:'#61D04F', b:'#2297E6', c:'#28E2E5', m:'#CD0BBC'};
  const pathColor=['m','m','k','k','g','r','r','k','g','c','b','g','g','c','c','k','b','g','r','k','r','b','m','b','c','k','r','c','g','r','m','b'];
  new Chart(canvasAt(cv), {
    type:'line',
    data:{datasets: coefPaths.map((p,k)=>({data: pathL1.map((x,i)=>({x:x, y:p[i]})), borderColor:PAL[pathColor[k]], borderWidth:1, pointRadius:0, tension:0}))},
    options:Object.assign({}, baseOpts, {layout:layoutPad(cv,area,true,true,true), plugins:noPlug,
      scales:{
        x: xAxisR(cv, area, {min:xmin, max:xmax, ticks:pathTicks, fmt:v=>String(v), size:12, labelY:1105, title:'L1 Norm', titleSize:14, titleY:1125}),
        x2: xAxisR(cv, area, {position:'top', min:xmin, max:xmax, ticks:pathTicks, fmt:(v,i)=>String(pathDf[i]), size:12, labelY:908}),
        y: yAxisRot(cv, area, {min:ymin, max:ymax, ticks:coefTicks, fmt:v=>minus(v.toFixed(1)), size:12, labelX:39, title:'Coefficients', titleSize:14, titleX:18})
      }}),
    plugins:[boxPlugin('#777')]
  });
})();

// ================= G: boxplot =================
(function(){
  const cv={l:370,t:528,w:392,h:267}, area={l:437,t:542,r:720,b:768};
  const stats=[normalBox, tumorBox], cols=['#0000FF','#FF0000'];
  const gPlugin = { id:'gbox',
    afterDatasetDraw(ch, args){
      if (args.index!==2) return;
      const ys=ch.scales.y, c=ch.ctx; c.save();
      args.meta.data.forEach((bar,i)=>{ const y=ys.getPixelForValue(stats[i][2]); c.strokeStyle=cols[i]; c.lineWidth=2.2; c.beginPath(); c.moveTo(bar.x-bar.width/2, y); c.lineTo(bar.x+bar.width/2, y); c.stroke(); });
      c.restore();
    },
    afterDatasetsDraw(ch){
      const xs=ch.scales.x, ys=ch.scales.y, c=ch.ctx;
      const x1=xs.getPixelForValue(1), x2=xs.getPixelForValue(2), y=Math.round(ys.getPixelForValue(sigY))+0.5, yt=ys.getPixelForValue(sigY-0.23);
      c.save(); c.strokeStyle='#555'; c.lineWidth=1; c.beginPath(); c.moveTo(x1,yt); c.lineTo(x1,y); c.lineTo(x2,y); c.lineTo(x2,yt); c.stroke();
      c.fillStyle='#222'; c.font='12px '+FAM; c.textAlign='center'; c.textBaseline='middle'; c.fillText(sigLabel, (x1+x2)/2, y-9);
      c.restore();
    }
  };
  new Chart(canvasAt(cv), {
    type:'bar',
    data:{datasets:[
      {type:'scatter', data: normalPts.map(p=>({x:1+p[0], y:p[1]})), pointRadius:2.1, backgroundColor:'#0000FF', borderWidth:0},
      {type:'scatter', data: tumorPts.map(p=>({x:2+p[0], y:p[1]})), pointRadius:2.1, backgroundColor:'#FF0000', borderWidth:0},
      {data: stats.map((s,i)=>({x:i+1, y:[s[1],s[3]]})), backgroundColor:'rgba(255,255,255,0)', borderColor:cols, borderWidth:1.5, borderSkipped:false, barThickness:90, grouped:false},
      {data: stats.map((s,i)=>({x:i+1, y:[s[0],s[4]]})), backgroundColor:cols, borderWidth:0, barThickness:1.3, grouped:false}
    ]},
    options:Object.assign({}, baseOpts, {layout:layoutPad(cv,area,false,true,true), plugins:noPlug,
      scales:{
        x: xAxisR(cv, area, {min:0.4, max:2.6, ticks:[1,2], fmt:(v,i)=>groups[i], size:14, labelY:783, tl:4, border:true, tickColor:'#333'}),
        y: {type:'linear', position:'left', min:7.03, max:15.78, offset:false,
            afterBuildTicks:s=>{ s.ticks=jamTicks.map(v=>({value:v})); },
            ticks:{font:F(13), color:'#222', padding:6, crossAlign:'near', autoSkip:false, callback:v=>String(v)},
            grid:{display:true, drawOnChartArea:false, drawTicks:true, tickLength:4, tickColor:'#333', offset:false},
            border:{display:true, color:'#222', width:1},
            title:{display:true, text:'JAM3 expression', font:F(14), color:'#000', padding:{top:27-8.4, bottom:0}},
            afterFit:s=>{ s.width=area.l-cv.l; noPad(s); }}
      }}),
    plugins:[gPlugin]
  });
})();

// ================= E (right): ROC =================
(function(){
  const cv={l:370,t:826,w:392,h:305}, area={l:438,t:831,r:698,b:1081};
  const xmin=-0.0415, xmax=1.037, ymin=-0.039, ymax=1.039;
  const aucPos=[[0.627,0.487],[0.589,0.418]];
  const aucPlugin = { id:'auc', afterDatasetsDraw(ch){
    const xs=ch.scales.x, ys=ch.scales.y, c=ch.ctx; c.save(); c.fillStyle='#FF0000'; c.font='13px '+FAM; c.textAlign='center'; c.textBaseline='middle';
    aucText.forEach((t,i)=>c.fillText(t, xs.getPixelForValue(aucPos[i][0]), ys.getPixelForValue(aucPos[i][1]))); c.restore();
  }};
  new Chart(canvasAt(cv), {
    type:'scatter',
    data:{datasets:[
      {type:'line', data: rocFPR.map((x,i)=>({x:x, y:rocTPR[i]})), borderColor:'#FF0000', borderWidth:2, pointRadius:0, tension:0},
      {type:'line', data:[{x:xmin,y:xmin},{x:xmax,y:xmax}], borderColor:'#A8A8A8', borderWidth:1, pointRadius:0}
    ]},
    options:Object.assign({}, baseOpts, {layout:layoutPad(cv,area,false,true,true), plugins:noPlug,
      scales:{
        x: xAxisR(cv, area, {min:xmin, max:xmax, ticks:rocTicks, fmt:v=>v.toFixed(1), size:13, labelY:1101, title:'1 - Specificity', titleSize:14, titleY:1120}),
        y: yAxisRot(cv, area, {min:ymin, max:ymax, ticks:rocTicks, fmt:v=>v.toFixed(1), size:13, labelX:418, title:'Sensitivity', titleSize:14, titleX:397})
      }}),
    plugins:[boxPlugin('#555'), aucPlugin]
  });
})();
</script>
</body></html>
